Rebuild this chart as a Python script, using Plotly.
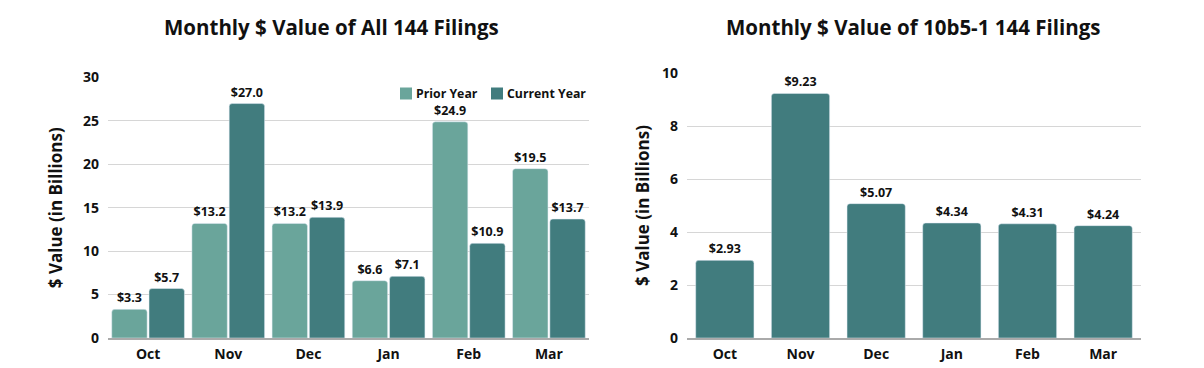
import plotly.graph_objects as go

months = ["Oct", "Nov", "Dec", "Jan", "Feb", "Mar"]
prior_year = [3.3, 13.2, 13.2, 6.6, 24.9, 19.5]
current_year = [5.7, 27.0, 13.9, 7.1, 10.9, 13.7]
plan_10b5 = [2.93, 9.23, 5.07, 4.34, 4.31, 4.24]
legend_labels = ["Prior Year", "Current Year"]

W, H = 1204, 368
PRIOR = "#6AA59B"
CURR = "#417C7E"
FONT = "Open Sans"

def px(x):
    return x / W

def py(y):
    return 1 - y / H

label_font = dict(family=FONT, size=12.5, color="#111", weight=700)

fig = go.Figure()
fig.add_trace(go.Bar(x=months, y=prior_year, name=legend_labels[0], marker=dict(color=PRIOR, cornerradius=3),
                     texttemplate="$%{y:.1f}", textposition="outside", cliponaxis=False,
                     textfont=label_font, xaxis="x", yaxis="y"))
fig.add_trace(go.Bar(x=months, y=current_year, name=legend_labels[1], marker=dict(color=CURR, cornerradius=3),
                     texttemplate="$%{y:.1f}", textposition="outside", cliponaxis=False,
                     textfont=label_font, xaxis="x", yaxis="y"))
fig.add_trace(go.Bar(x=months, y=plan_10b5, name="10b5-1", marker=dict(color=CURR, cornerradius=3),
                     texttemplate="$%{y:.2f}", textposition="outside", cliponaxis=False,
                     textfont=label_font, xaxis="x2", yaxis="y2", width=0.77))

tickfont = dict(family=FONT, size=14, color="#111", weight=700)
axis_title_font = dict(family=FONT, size=17, color="#111", weight=700)
legend_font = dict(family=FONT, size=12.3, color="#111", weight=700)

# custom compact legend (swatch + label)
shapes = []
annotations = []
legend_x = [400, 491]
for lx, lab, col in zip(legend_x, legend_labels, [PRIOR, CURR]):
    shapes.append(dict(type="rect", xref="paper", yref="paper", x0=px(lx), x1=px(lx + 12),
                       y0=py(99.5), y1=py(87.5), fillcolor=col, line=dict(width=0)))
    annotations.append(dict(text=lab, x=px(lx + 14), y=py(93.5), xref="paper", yref="paper",
                            xanchor="left", yanchor="middle", showarrow=False, font=legend_font))

annotations += [
    dict(text="Monthly $ Value of All 144 Filings", x=px(332), y=py(27), xref="paper", yref="paper",
         xanchor="center", yanchor="middle",
         showarrow=False, font=dict(family=FONT, size=20.5, color="#111", weight=700)),
    dict(text="Monthly $ Value of 10b5-1 144 Filings", x=px(913), y=py(27), xref="paper", yref="paper",
         xanchor="center", yanchor="middle",
         showarrow=False, font=dict(family=FONT, size=20.5, color="#111", weight=700)),
]

fig.update_layout(
    width=W, height=H,
    margin=dict(l=0, r=0, t=0, b=0, autoexpand=False),
    paper_bgcolor="white", plot_bgcolor="white",
    barmode="group", bargap=0.07, bargroupgap=0.05,
    showlegend=False,
    font=dict(family=FONT, color="#111"),
    xaxis=dict(domain=[px(108), px(589)], anchor="y", tickfont=tickfont, showgrid=False, automargin=False,
               showline=True, linecolor="#aaaaaa", linewidth=1.5, ticks="", ticklabelstandoff=2),
    yaxis=dict(domain=[py(338), py(77.5)], anchor="x", range=[0, 30], dtick=5, tickfont=tickfont,
               automargin=False,
               gridcolor="#d6d6d6", gridwidth=1, zeroline=False, showline=False, ticklabelstandoff=8,
               title=dict(text="$ Value (in Billions)", font=axis_title_font, standoff=16)),
    xaxis2=dict(domain=[px(687), px(1141)], anchor="y2", tickfont=tickfont, showgrid=False, automargin=False,
                showline=True, linecolor="#aaaaaa", linewidth=1.5, ticks="", ticklabelstandoff=2),
    yaxis2=dict(domain=[py(338), py(73)], anchor="x2", range=[0, 10], dtick=2, tickfont=tickfont,
                automargin=False,
                gridcolor="#d6d6d6", gridwidth=1, zeroline=False, showline=False, ticklabelstandoff=8,
                title=dict(text="$ Value (in Billions)", font=axis_title_font, standoff=8)),
    shapes=shapes,
    annotations=annotations,
)

fig.write_html("out.html", config={"displayModeBar": False},
               post_script="document.body.style.margin='0';document.body.style.overflow='hidden';")
